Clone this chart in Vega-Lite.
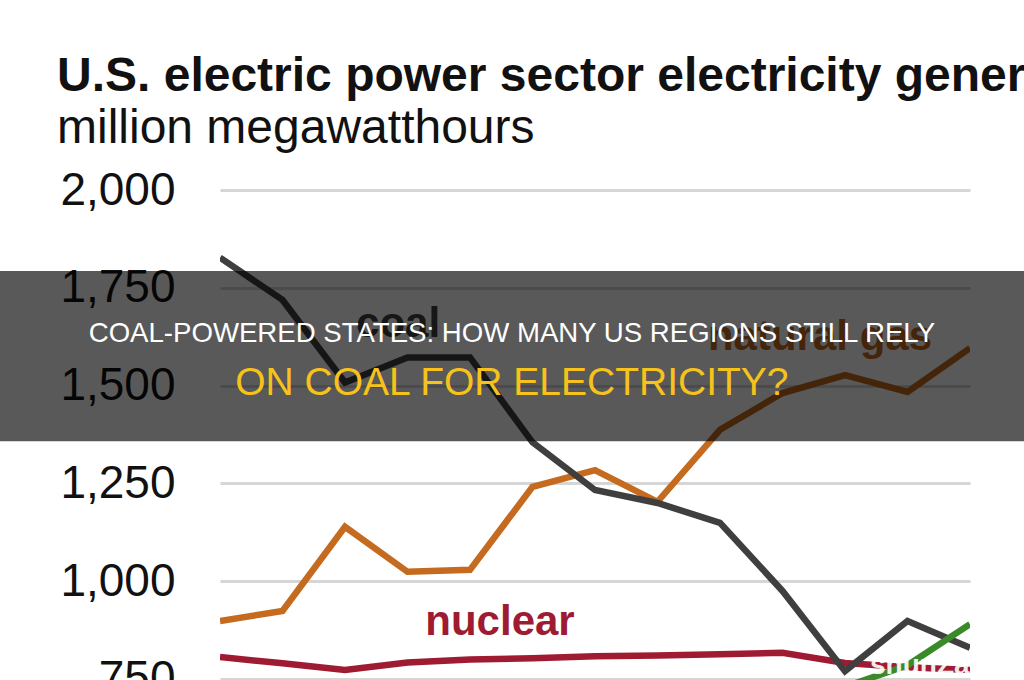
{
  "$schema": "https://vega.github.io/schema/vega-lite/v6.json",
  "autosize": {"type": "none"},
  "padding": {"left": 220, "top": 190, "right": 54, "bottom": 0},
  "width": 750,
  "height": 490,
  "background": "white",
  "config": {"view": {"stroke": null}, "font": "Liberation Sans"},
  "title": {
    "text": "U.S. electric power sector electricity generation",
    "subtitle": "million megawatthours",
    "anchor": "start",
    "frame": "group",
    "dx": -163,
    "font": "Liberation Sans",
    "fontSize": 48,
    "fontWeight": "bold",
    "color": "#111111",
    "subtitleFont": "Liberation Sans",
    "subtitleFontSize": 48,
    "subtitleColor": "#111111",
    "subtitlePadding": 4,
    "offset": 14
  },
  "datasets": {
    "series": [
      {"series": "nuclear", "year": 2010, "value": 806},
      {"series": "nuclear", "year": 2011, "value": 790},
      {"series": "nuclear", "year": 2012, "value": 773},
      {"series": "nuclear", "year": 2013, "value": 792},
      {"series": "nuclear", "year": 2014, "value": 800},
      {"series": "nuclear", "year": 2015, "value": 803},
      {"series": "nuclear", "year": 2016, "value": 808},
      {"series": "nuclear", "year": 2017, "value": 810},
      {"series": "nuclear", "year": 2018, "value": 813},
      {"series": "nuclear", "year": 2019, "value": 817},
      {"series": "nuclear", "year": 2020, "value": 791},
      {"series": "nuclear", "year": 2021, "value": 780},
      {"series": "nuclear", "year": 2022, "value": 773},
      {"series": "natural gas", "year": 2010, "value": 898},
      {"series": "natural gas", "year": 2011, "value": 924},
      {"series": "natural gas", "year": 2012, "value": 1139},
      {"series": "natural gas", "year": 2013, "value": 1024},
      {"series": "natural gas", "year": 2014, "value": 1029},
      {"series": "natural gas", "year": 2015, "value": 1241},
      {"series": "natural gas", "year": 2016, "value": 1284},
      {"series": "natural gas", "year": 2017, "value": 1203},
      {"series": "natural gas", "year": 2018, "value": 1387},
      {"series": "natural gas", "year": 2019, "value": 1481},
      {"series": "natural gas", "year": 2020, "value": 1527},
      {"series": "natural gas", "year": 2021, "value": 1484},
      {"series": "natural gas", "year": 2022, "value": 1596},
      {"series": "coal", "year": 2010, "value": 1827},
      {"series": "coal", "year": 2011, "value": 1719},
      {"series": "coal", "year": 2012, "value": 1508},
      {"series": "coal", "year": 2013, "value": 1572},
      {"series": "coal", "year": 2014, "value": 1572},
      {"series": "coal", "year": 2015, "value": 1355},
      {"series": "coal", "year": 2016, "value": 1233},
      {"series": "coal", "year": 2017, "value": 1200},
      {"series": "coal", "year": 2018, "value": 1149},
      {"series": "coal", "year": 2019, "value": 975},
      {"series": "coal", "year": 2020, "value": 770},
      {"series": "coal", "year": 2021, "value": 898},
      {"series": "coal", "year": 2022, "value": 830},
      {"series": "renewables", "year": 2019, "value": 700},
      {"series": "renewables", "year": 2020, "value": 730},
      {"series": "renewables", "year": 2021, "value": 785},
      {"series": "renewables", "year": 2022, "value": 890}
    ],
    "labels": [
      {"series": "coal", "year": 2012.85, "value": 1624},
      {"series": "natural gas", "year": 2019.6, "value": 1591},
      {"series": "nuclear", "year": 2014.48, "value": 862}
    ]
  },
  "encoding": {
    "x": {"type": "quantitative", "scale": {"domain": [2010, 2022], "nice": false, "zero": false}, "axis": null},
    "y": {
      "type": "quantitative",
      "scale": {"domain": [747.4, 2000], "nice": false, "zero": false},
      "axis": {
        "values": [750, 1000, 1250, 1500, 1750, 2000],
        "labelExpr": "format(datum.value, ',')",
        "title": null,
        "domain": false,
        "ticks": false,
        "labelFont": "Liberation Sans",
        "labelFontSize": 46,
        "labelColor": "#111111",
        "labelPadding": 45,
        "grid": true,
        "gridColor": "#d6d6d6",
        "gridWidth": 3
      }
    }
  },
  "layer": [
    {
      "data": {"name": "series"},
      "mark": {"type": "line", "strokeWidth": 6.5, "clip": true},
      "encoding": {
        "x": {"field": "year", "type": "quantitative"},
        "y": {"field": "value", "type": "quantitative"},
        "color": {
          "field": "series", "type": "nominal", "legend": null,
          "scale": {"domain": ["nuclear", "natural gas", "coal", "renewables"], "range": ["#9e1b32", "#c46b1f", "#3f3f3f", "#3a8a2a"]}
        },
        "order": {"field": "series"}
      }
    },
    {
      "data": {"name": "labels"},
      "mark": {"type": "text", "font": "Liberation Sans", "fontSize": 42, "fontWeight": "bold", "align": "center", "baseline": "alphabetic"},
      "encoding": {
        "x": {"field": "year", "type": "quantitative"},
        "y": {"field": "value", "type": "quantitative"},
        "text": {"field": "series"},
        "color": {"field": "series", "type": "nominal", "legend": null}
      }
    },
    {
      "data": {"values": [{}]},
      "mark": {"type": "text", "text": "shunZa", "font": "Liberation Sans", "fontSize": 28, "fontWeight": "bold", "color": "white", "opacity": 0.9, "align": "left", "baseline": "alphabetic", "clip": true},
      "encoding": {"x": {"datum": 2020.4}, "y": {"datum": 762}}
    },
    {
      "data": {"values": [{}]},
      "mark": {"type": "rect", "color": "black", "opacity": 0.65},
      "encoding": {"x": {"datum": 2006.2}, "x2": {"datum": 2023.2}, "y": {"datum": 1793}, "y2": {"datum": 1358}}
    },
    {
      "data": {"values": [{}]},
      "mark": {"type": "text", "text": "COAL-POWERED STATES: HOW MANY US REGIONS STILL RELY", "font": "Liberation Sans", "fontSize": 27.6, "color": "white", "align": "center", "baseline": "alphabetic"},
      "encoding": {"x": {"datum": 2014.67}, "y": {"datum": 1611}}
    },
    {
      "data": {"values": [{}]},
      "mark": {"type": "text", "text": "ON COAL FOR ELECTRICITY?", "font": "Liberation Sans", "fontSize": 39, "color": "#f6c21b", "align": "center", "baseline": "alphabetic"},
      "encoding": {"x": {"datum": 2014.67}, "y": {"datum": 1476}}
    }
  ]
}
